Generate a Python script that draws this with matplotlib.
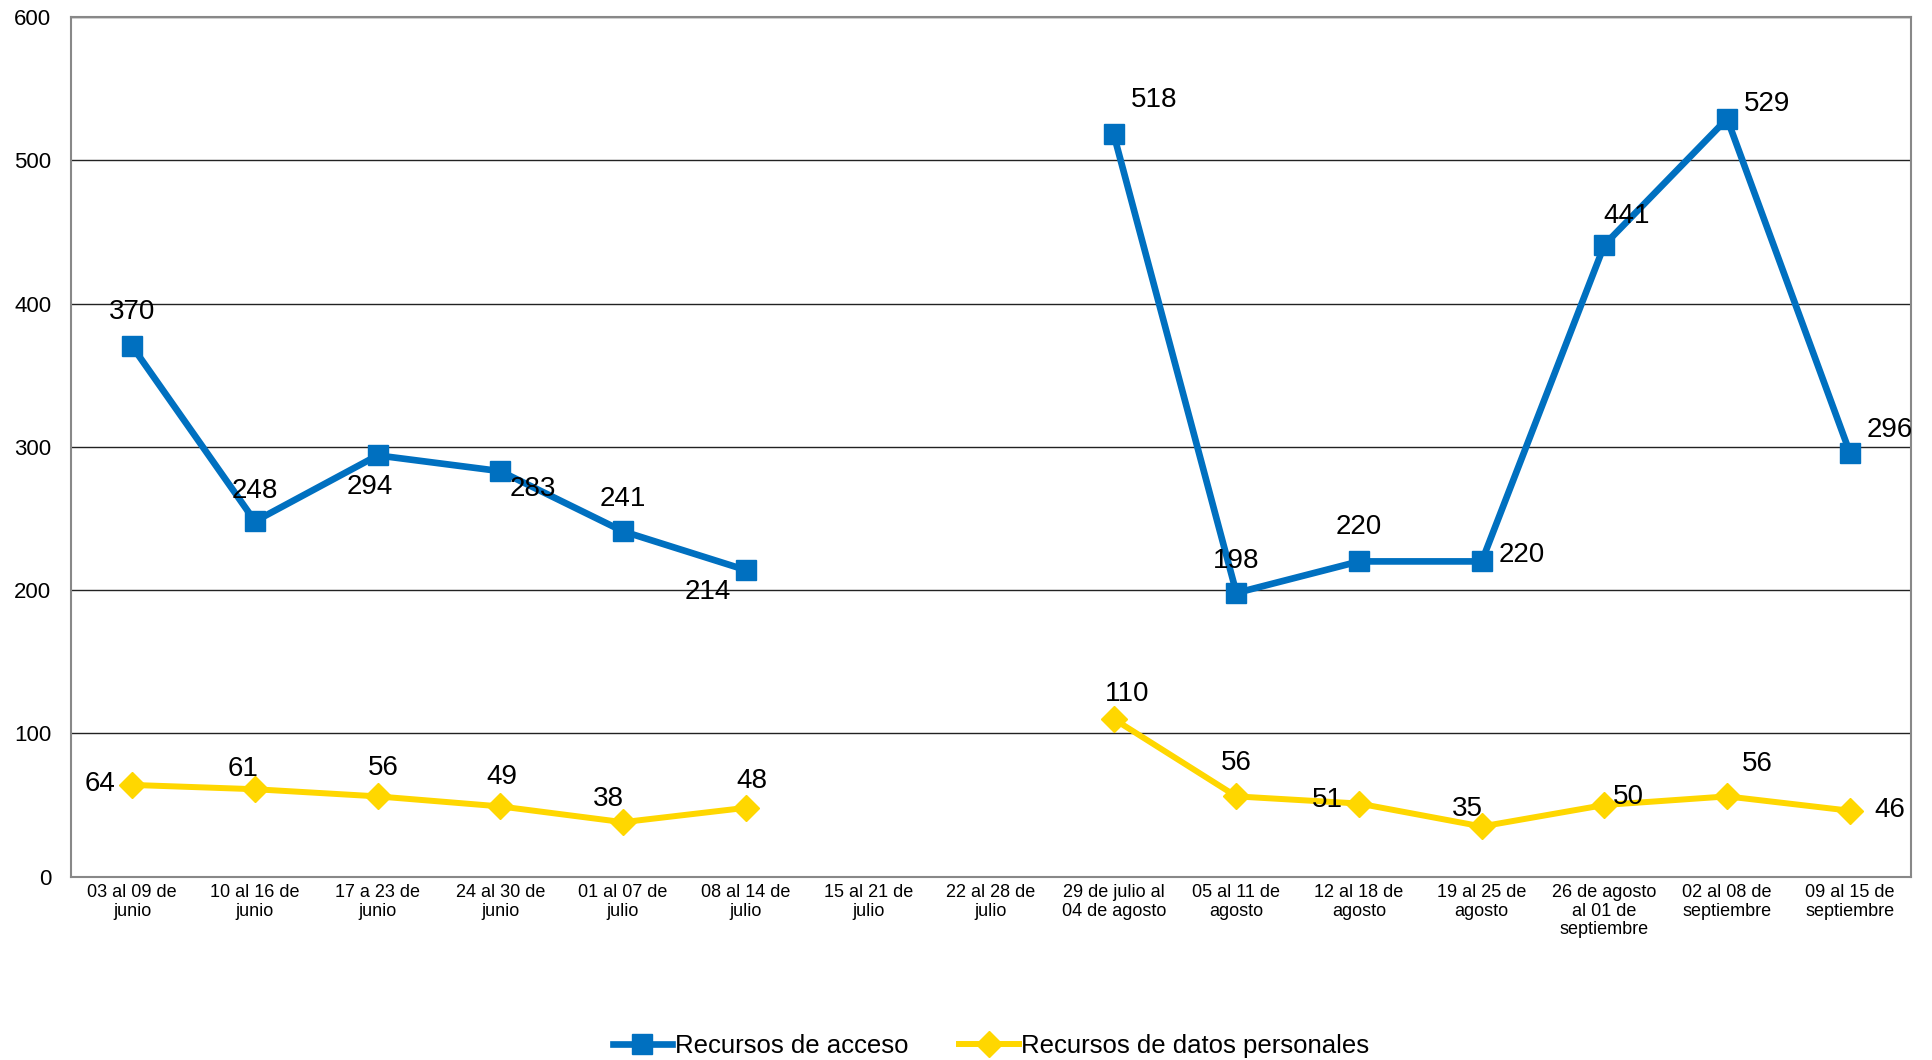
import numpy as np
import matplotlib
matplotlib.use("Agg")
import matplotlib.pyplot as plt
from matplotlib import font_manager

# Weekly categories and the two series (gaps where there is no data)
semanas = [
    "03 al 09 de\njunio", "10 al 16 de\njunio", "17 a 23 de\njunio",
    "24 al 30 de\njunio", "01 al 07 de\njulio", "08 al 14 de\njulio",
    "15 al 21 de\njulio", "22 al 28 de\njulio", "29 de julio al\n04 de agosto",
    "05 al 11 de\nagosto", "12 al 18 de\nagosto", "19 al 25 de\nagosto",
    "26 de agosto\nal 01 de\nseptiembre", "02 al 08 de\nseptiembre",
    "09 al 15 de\nseptiembre",
]
acceso = [370, 248, 294, 283, 241, 214, None, None, 518, 198, 220, 220, 441, 529, 296]
datos = [64, 61, 56, 49, 38, 48, None, None, 110, 56, 51, 35, 50, 56, 46]

# label offsets (pixels) so the numbers sit like in the original
off_acceso = [(0, 34), (0, 30), (-8, -32), (32, -18), (0, 32), (-38, -22), None, None,
              (40, 34), (0, 32), (0, 34), (40, 6), (22, 29), (40, 15), (40, 23)]
off_datos = [(-32, 1), (-12, 20), (6, 28), (2, 29), (-15, 23), (6, 27), None, None,
             (13, 25), (0, 33), (-32, 4), (-14, 17), (24, 8), (30, 32), (40, 1)]

names = {f.name for f in font_manager.fontManager.ttflist}
narrow = "Liberation Sans Narrow" if "Liberation Sans Narrow" in names else "Liberation Sans"
plt.rcParams["font.family"] = ["Liberation Sans", "DejaVu Sans"]

azul = "#0070C0"
amarillo = "#FFD700"

x = np.arange(len(semanas))
y1 = np.array([np.nan if v is None else v for v in acceso], dtype=float)
y2 = np.array([np.nan if v is None else v for v in datos], dtype=float)

fig = plt.figure(figsize=(19.33, 10.6), dpi=100)
ax = fig.add_axes([0.0367, 0.173, 0.952, 0.811])

ax.plot(x, y1, color=azul, lw=4.8, marker="s", ms=14, label="Recursos de acceso", zorder=3)
ax.plot(x, y2, color=amarillo, lw=4.3, marker="D", ms=13, label="Recursos de datos personales", zorder=3)

for xi, v, o in zip(x, acceso, off_acceso):
    if v is not None:
        ax.annotate(str(v), (xi, v), xytext=o, textcoords="offset pixels",
                    ha="center", va="center", fontsize=20, zorder=4)
for xi, v, o in zip(x, datos, off_datos):
    if v is not None:
        ax.annotate(str(v), (xi, v), xytext=o, textcoords="offset pixels",
                    ha="center", va="center", fontsize=20, zorder=4)

ax.set_xlim(-0.5, len(semanas) - 0.5)
ax.set_ylim(0, 600)
ax.set_yticks(range(0, 601, 100))
ax.set_xticks(x)
ax.set_xticklabels(semanas, fontsize=13, family=narrow, linespacing=1.15)
ax.tick_params(axis="y", labelsize=16, length=0, pad=14)
ax.tick_params(axis="x", length=0, pad=5)
ax.grid(axis="y", color="#222222", lw=1)
ax.set_axisbelow(True)
for s in ax.spines.values():
    s.set_color("#888888")
    s.set_linewidth(1.5)

ax.legend(loc="lower center", bbox_to_anchor=(0.5, -0.238), ncol=2, frameon=False,
          prop={"family": narrow, "size": 18.5}, handlelength=2.3, handletextpad=0.1,
          columnspacing=2.0)

fig.savefig("out.png", dpi=100)
